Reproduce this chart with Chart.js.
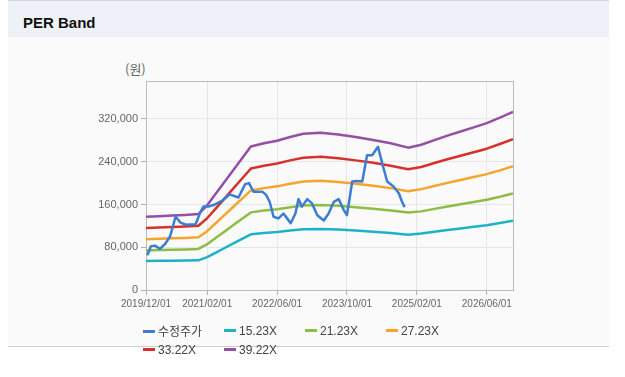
<!DOCTYPE html>
<html>
<head>
<meta charset="utf-8">
<script src="https://cdn.jsdelivr.net/npm/chart.js@4/dist/chart.umd.min.js"></script>
<style>
  html, body { margin: 0; padding: 0; background: #ffffff; width: 625px; height: 377px; overflow: hidden; }
  #panel { position: absolute; left: 8px; top: 0; width: 601px; height: 345px; background: #fafafa; border-top: 1px solid #d6d6d6; border-bottom: 1px solid #cfcfcf; }
  #head { position: absolute; left: 0; top: 0; width: 601px; height: 36px; background: #eef2f8; }
  #title { position: absolute; left: 15px; top: 13px; font: bold 15px "Liberation Sans", Arial, sans-serif; color: #111; line-height: 17px; }
  #unit { position: absolute; left: 125px; top: 61px; font: 13px "Noto Sans CJK KR", sans-serif; color: #666; line-height: 16px; }
  #chart { position: absolute; left: 0; top: 0; }
  #legend { position: absolute; left: 143px; top: 322px; width: 340px; font: 12px "Liberation Sans", Arial, sans-serif; color: #444; }
  .item { position: absolute; height: 18px; line-height: 18px; white-space: nowrap; }
  .mk { display: inline-block; width: 12px; height: 3px; vertical-align: middle; margin-right: 3px; position: relative; top: -1px; }
  .ko { font-family: "Noto Sans CJK KR", sans-serif; font-size: 12px; }
</style>
</head>
<body>
<div id="panel"><div id="head"><div id="title">PER Band</div></div></div>
<div id="unit">(원)</div>
<canvas id="chart" width="625" height="377"></canvas>
<div id="legend"></div>
<script>
// ---- data ----
const seriesNames = ['수정주가', '15.23X', '21.23X', '27.23X', '33.22X', '39.22X'];
const seriesColors = ['#3a7dd3', '#1cb3c8', '#8dbd44', '#f6a52c', '#d7312b', '#954fa6'];

const xTickLabels = ['2019/12/01', '2021/02/01', '2022/06/01', '2023/10/01', '2025/02/01', '2026/06/01'];
const xStart = '2019/12/01';
const xEnd = '2026/12/01';
const yTicks = [0, 80000, 160000, 240000, 320000];

const bandDates = ['2019/12/01','2020/03/01','2020/06/01','2020/09/01','2020/12/01','2021/02/01','2021/04/01','2021/06/01','2021/08/01','2021/10/01','2021/12/01','2022/03/01','2022/06/01','2022/09/01','2022/12/01','2023/04/01','2023/08/01','2023/12/01','2024/04/01','2024/08/01','2024/12/01','2025/03/01','2025/06/01','2025/09/01','2025/12/01','2026/03/01','2026/06/01','2026/09/01','2026/12/01'];
const band1523 = [54200, 54500, 54800, 55100, 55500, 61500, 70100, 78600, 87100, 95600, 104200, 106600, 108400, 111200, 113500, 114200, 113000, 111200, 109000, 106600, 103400, 105500, 108900, 112100, 115100, 118200, 121200, 125200, 129800];
const band2123 = [74100, 74700, 75400, 76000, 76900, 85800, 97700, 109500, 121400, 133300, 145200, 148600, 151200, 155000, 158200, 159200, 157500, 155000, 152000, 148600, 144800, 147100, 151800, 156300, 160500, 164700, 169000, 174500, 180800];
const band2723 = [95000, 95900, 96700, 97500, 98600, 110000, 125300, 140500, 155800, 171000, 186300, 190600, 193900, 198800, 202900, 204200, 202000, 198800, 195000, 190600, 184900, 188700, 194700, 200400, 205900, 211300, 216800, 223800, 231500];
const band3322 = [115900, 116900, 117900, 118900, 120300, 134200, 152800, 171400, 190000, 208600, 227200, 232500, 236500, 242500, 247500, 249200, 246500, 242500, 237900, 232500, 226000, 230200, 237500, 244500, 251100, 257800, 264400, 273100, 282400];
const band3922 = [136900, 138100, 139200, 140400, 142000, 158400, 180400, 202400, 224300, 246300, 268300, 274500, 279200, 286300, 292200, 294200, 291000, 286300, 280800, 274500, 266300, 271800, 280400, 288700, 296500, 304300, 312200, 322400, 333400];

const priceDates = ['2019/12/10','2020/01/05','2020/02/02','2020/03/07','2020/04/12','2020/05/16','2020/06/24','2020/07/28','2020/09/06','2020/11/12','2020/12/13','2021/01/05','2021/02/10','2021/03/25','2021/05/15','2021/07/05','2021/09/06','2021/10/22','2021/11/18','2021/12/19','2022/02/19','2022/03/16','2022/04/10','2022/05/07','2022/06/10','2022/07/15','2022/08/10','2022/09/04','2022/10/07','2022/10/28','2022/11/22','2022/12/28','2023/02/01','2023/03/07','2023/04/22','2023/05/25','2023/07/01','2023/08/04','2023/09/08','2023/10/01','2023/11/07','2023/12/10','2024/01/16','2024/02/19','2024/03/24','2024/05/04','2024/06/03','2024/07/07','2024/08/22','2024/09/27','2024/10/19','2024/11/07'];
const priceValues = [65000, 82000, 83000, 77000, 86000, 100000, 137000, 126000, 122000, 123000, 145000, 156000, 156000, 160000, 167000, 179000, 173000, 198000, 200000, 184000, 184000, 178000, 165000, 137000, 134000, 143000, 134000, 125000, 143000, 170000, 156000, 170000, 162000, 140000, 130000, 143000, 165000, 170000, 150000, 140000, 203000, 204000, 203000, 252000, 252000, 268000, 237000, 203000, 193000, 181000, 165000, 155000];

// ---- helpers ----
function monthIndex(s) {
  const [y, m, d] = s.split('/').map(Number);
  const [y0, m0] = xStart.split('/').map(Number);
  return (y - y0) * 12 + (m - m0) + (d - 1) / 30;
}
function pts(dates, vals) { return dates.map((d, i) => ({ x: monthIndex(d), y: vals[i] })); }

const bandSets = [band1523, band2123, band2723, band3322, band3922];
const datasets = [
  { label: seriesNames[0], data: pts(priceDates, priceValues), borderColor: seriesColors[0] }
].concat(bandSets.map((b, i) => ({ label: seriesNames[i + 1], data: pts(bandDates, b), borderColor: seriesColors[i + 1] })));
datasets.forEach(ds => { ds.borderWidth = 2.5; ds.pointRadius = 0; ds.fill = false; ds.tension = 0; ds.borderJoinStyle = 'round'; });

const frame = {
  id: 'frame',
  beforeDatasetsDraw(chart) {
    const a = chart.chartArea, c = chart.ctx;
    c.save(); c.strokeStyle = '#bcbcbc'; c.lineWidth = 1;
    c.strokeRect(Math.round(a.left) + 0.5, Math.round(a.top) + 0.5, Math.round(a.right - a.left), Math.round(a.bottom - a.top));
    c.restore();
  }
};

new Chart(document.getElementById('chart'), {
  type: 'line',
  data: { datasets },
  plugins: [frame],
  options: {
    responsive: false, animation: false, devicePixelRatio: 1,
    layout: { padding: { left: 0, top: 81, right: 112, bottom: 67 } },
    plugins: { legend: { display: false }, tooltip: { enabled: false } },
    scales: {
      x: {
        type: 'linear', min: monthIndex(xStart), max: monthIndex(xEnd),
        afterBuildTicks: s => { s.ticks = xTickLabels.map(l => ({ value: monthIndex(l) })); },
        afterFit: s => { s.height = 20; },
        ticks: {
          autoSkip: false, maxRotation: 0, padding: 3, color: '#666',
          font: { family: 'Liberation Sans', size: 10 },
          callback: (v) => { const i = xTickLabels.findIndex(l => Math.abs(monthIndex(l) - v) < 1e-6); return i >= 0 ? xTickLabels[i] : ''; }
        },
        grid: { color: '#e6e6e6', tickLength: 5, tickColor: '#b0b0b0' },
        border: { color: '#bcbcbc' }
      },
      y: {
        min: 0, max: 391000,
        afterBuildTicks: s => { s.ticks = yTicks.map(v => ({ value: v })); },
        afterFit: s => { s.width = 146; },
        ticks: {
          padding: 3, color: '#666',
          font: { family: 'Liberation Sans', size: 11 },
          callback: v => Number(v).toLocaleString('en-US')
        },
        grid: { color: '#e6e6e6', tickLength: 5, tickColor: '#b0b0b0' },
        border: { color: '#bcbcbc' }
      }
    }
  }
});

// ---- HTML legend ----
const lg = document.getElementById('legend');
seriesNames.forEach((n, i) => {
  const el = document.createElement('div');
  el.className = 'item';
  el.style.left = (i % 4) * 81 + 'px';
  el.style.top = Math.floor(i / 4) * 19 + 'px';
  el.innerHTML = '<span class="mk" style="background:' + seriesColors[i] + '"></span><span class="' + (i === 0 ? 'ko' : '') + '">' + n + '</span>';
  lg.appendChild(el);
});
</script>
</body>
</html>
